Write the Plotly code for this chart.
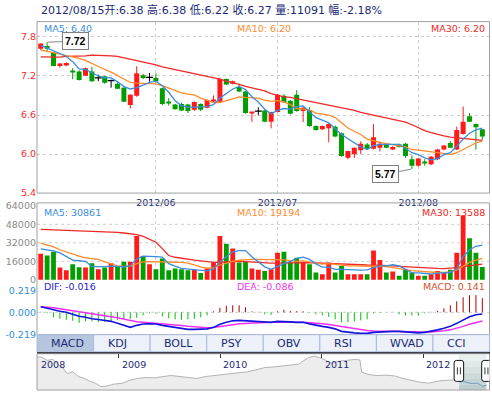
import plotly.graph_objects as go

# ---------------- data ----------------
month_labels = ["2012/06", "2012/07", "2012/08"]
month_start = [18, 37, 59]          # candle index of first trading day of month

open_ = [7.62,7.66,7.56,7.355,7.37,7.27,7.27,7.205,7.27,7.17,
         7.195,7.13,7.08,7.02,6.755,6.895,7.21,7.18,7.17,7.01,
         6.80,6.76,6.77,6.76,6.68,6.77,6.71,6.81,6.805,7.155,
         7.08,7.03,6.96,6.63,6.66,6.67,6.495,6.645,6.895,6.82,
         6.91,6.66,6.67,6.43,6.38,6.395,6.42,6.32,5.945,5.995,
         6.06,6.145,6.08,6.095,6.145,6.07,6.145,6.16,5.92,5.82,
         5.87,5.845,5.92,6.07,6.17,6.07,6.31,6.58,6.46,6.38]
high = [7.70,7.72,7.57,7.40,7.41,7.32,7.29,7.33,7.34,7.22,
        7.20,7.145,7.10,7.04,6.92,7.35,7.23,7.245,7.24,7.02,
        6.86,6.77,6.79,6.77,6.81,6.78,6.84,6.90,7.17,7.16,
        7.13,7.08,6.97,6.645,6.72,6.68,6.65,6.92,6.92,6.83,
        6.98,6.72,6.72,6.44,6.44,6.47,6.44,6.33,6.05,6.10,
        6.195,6.17,6.46,6.19,6.16,6.12,6.16,6.17,5.98,5.94,
        5.92,5.97,6.08,6.14,6.20,6.42,6.73,6.63,6.47,6.38]
low = [7.60,7.58,7.35,7.33,7.35,7.15,7.13,7.20,7.11,7.12,
       7.08,7.02,7.00,6.80,6.70,6.88,7.15,7.11,7.10,6.75,
       6.745,6.685,6.66,6.63,6.66,6.66,6.70,6.80,6.80,7.06,
       7.07,6.95,6.62,6.495,6.595,6.49,6.395,6.64,6.79,6.61,
       6.65,6.49,6.42,6.36,6.37,6.18,6.26,5.96,5.92,5.94,
       6.00,6.07,6.07,6.04,6.09,6.06,6.10,5.94,5.77,5.81,
       5.82,5.83,5.91,6.06,6.09,6.06,6.30,6.49,6.07,6.22]
close = [7.70,7.62,7.355,7.39,7.40,7.26,7.14,7.32,7.12,7.17,
         7.095,7.13,7.005,6.805,6.91,7.24,7.17,7.18,7.12,6.77,
         6.785,6.69,6.67,6.66,6.80,6.68,6.83,6.83,7.155,7.07,
         7.12,6.96,6.63,6.64,6.66,6.495,6.645,6.91,6.795,6.62,
         6.66,6.71,6.43,6.37,6.43,6.46,6.27,5.97,6.045,6.095,
         6.16,6.08,6.26,6.16,6.095,6.11,6.11,5.97,5.82,5.93,
         5.86,5.96,6.07,6.13,6.095,6.37,6.495,6.495,6.41,6.27]
volume = [22500,21000,24200,10600,8300,13400,10900,10600,14300,9200,
          10600,14300,11700,15700,15700,38000,20500,13400,9200,18500,
          8300,9700,9200,8300,8600,5800,9700,14900,38000,31200,
          27000,14900,15400,9700,8600,7700,9200,23300,24200,15400,
          19100,15400,13400,6300,4900,14900,6300,12000,4900,4900,
          4900,4900,25300,17100,6300,7100,3600,8600,6300,3600,
          3600,4900,7700,6300,8600,23300,55500,36000,23300,11091]
ma5 = [7.67,7.63,7.595,7.545,7.50,7.42,7.31,7.30,7.25,7.20,
       7.17,7.17,7.11,7.04,7.00,7.02,7.06,7.10,7.12,7.05,
       6.95,6.82,6.745,6.72,6.72,6.72,6.73,6.76,6.86,6.93,
       7.00,7.04,6.99,6.88,6.80,6.69,6.62,6.67,6.70,6.69,
       6.73,6.74,6.65,6.56,6.52,6.48,6.39,6.30,6.235,6.17,
       6.11,6.07,6.13,6.15,6.15,6.14,6.15,6.09,6.02,5.99,
       5.94,5.91,5.93,5.99,6.02,6.12,6.23,6.32,6.37,6.40]
ma10 = [7.60,7.58,7.56,7.54,7.52,7.50,7.47,7.44,7.39,7.35,
        7.30,7.26,7.21,7.15,7.10,7.09,7.09,7.09,7.08,7.05,
        7.01,6.97,6.94,6.92,6.91,6.86,6.82,6.79,6.79,6.82,
        6.86,6.88,6.87,6.86,6.86,6.83,6.81,6.82,6.80,6.76,
        6.70,6.69,6.68,6.63,6.61,6.60,6.56,6.48,6.40,6.35,
        6.30,6.23,6.20,6.18,6.16,6.14,6.12,6.11,6.07,6.06,
        6.04,6.03,6.03,6.01,5.99,6.02,6.07,6.12,6.17,6.20]
ma30 = [7.495,7.49,7.49,7.49,7.50,7.50,7.51,7.51,7.52,7.52,
        7.52,7.51,7.50,7.48,7.46,7.43,7.41,7.39,7.37,7.34,
        7.32,7.30,7.28,7.26,7.24,7.22,7.20,7.18,7.15,7.12,
        7.10,7.07,7.04,7.02,7.00,6.97,6.93,6.90,6.88,6.87,
        6.85,6.83,6.81,6.80,6.78,6.76,6.74,6.72,6.70,6.67,
        6.64,6.62,6.60,6.57,6.55,6.53,6.52,6.49,6.45,6.40,
        6.36,6.33,6.30,6.28,6.26,6.25,6.24,6.23,6.22,6.21]
vma5 = [26700,26000,25000,23300,20000,17000,16500,16000,11500,11300,
        11400,11800,11800,11300,12000,18000,20500,20500,20000,19600,
        14000,11800,9800,9300,8800,8000,7800,9400,15300,20000,
        24200,25200,25300,20000,15200,11200,9100,11700,14000,16000,
        18500,19500,17600,13800,11000,11000,9000,9000,8600,8600,
        8300,8500,10000,12000,12000,13000,12000,9000,6000,6000,
        5500,5000,5800,6100,6300,9500,20000,26000,29000,30000]
vma10 = [31800,30000,28500,26000,24000,22000,20500,19000,18300,17700,
         15500,13500,12000,11500,11800,14000,15500,15800,15500,15400,
         15300,15200,15000,14500,13000,11000,10000,10200,12800,14500,
         16000,16900,17400,17600,17600,17500,17300,17700,17300,16500,
         16000,16300,15500,14500,13500,14000,13400,12500,12000,12000,
         12000,12000,12000,12000,11500,10500,9500,8600,8000,7500,
         7000,6600,6300,6300,6800,8500,12000,15000,17000,18500]
vma30 = [43700,43500,43300,43200,43000,42800,42600,42400,42200,42000,
         41700,41400,41000,40500,40000,39000,37500,35000,32500,27000,
         21000,19500,18500,17700,17000,16300,15500,15000,15200,15600,
         16000,16000,15800,15400,15000,14600,14400,14500,14700,14900,
         15000,15000,14900,14700,14400,14200,13800,13500,13300,13100,
         12900,12800,12700,12600,12300,12000,11600,11200,10800,10400,
         10200,10000,9800,9700,9800,10500,11500,12200,12800,13500]
dif = [0.056,0.04,0.023,0.01,0.0,-0.02,-0.04,-0.05,-0.065,-0.072,
       -0.08,-0.09,-0.11,-0.13,-0.15,-0.13,-0.117,-0.115,-0.117,-0.13,
       -0.14,-0.155,-0.165,-0.17,-0.17,-0.17,-0.165,-0.15,-0.12,-0.10,
       -0.085,-0.08,-0.085,-0.09,-0.092,-0.10,-0.10,-0.09,-0.09,-0.095,
       -0.10,-0.10,-0.115,-0.13,-0.14,-0.15,-0.165,-0.19,-0.20,-0.205,
       -0.21,-0.21,-0.20,-0.195,-0.19,-0.19,-0.19,-0.195,-0.205,-0.205,
       -0.20,-0.19,-0.175,-0.16,-0.14,-0.11,-0.075,-0.045,-0.025,-0.016]
dea = [0.056,0.052,0.045,0.036,0.025,0.015,0.005,-0.005,-0.015,-0.025,
       -0.035,-0.045,-0.055,-0.07,-0.085,-0.095,-0.10,-0.105,-0.108,-0.112,
       -0.118,-0.125,-0.132,-0.14,-0.145,-0.15,-0.153,-0.152,-0.145,-0.135,
       -0.125,-0.115,-0.11,-0.105,-0.102,-0.101,-0.10,-0.098,-0.097,-0.097,
       -0.098,-0.099,-0.102,-0.107,-0.114,-0.122,-0.132,-0.145,-0.156,-0.166,
       -0.175,-0.182,-0.186,-0.188,-0.189,-0.19,-0.19,-0.191,-0.194,-0.196,
       -0.197,-0.196,-0.192,-0.185,-0.175,-0.16,-0.14,-0.12,-0.10,-0.086]
macd = [0.005,-0.01,-0.05,-0.065,-0.075,-0.085,-0.105,-0.09,-0.09,-0.10,
        -0.095,-0.09,-0.075,-0.065,-0.065,-0.055,-0.03,-0.01,-0.015,-0.04,
        -0.06,-0.07,-0.075,-0.07,-0.065,-0.05,-0.03,0.01,0.045,0.065,
        0.07,0.07,0.05,0.01,0.005,-0.02,-0.025,0.01,0.025,0.012,
        0.012,0.01,-0.005,-0.02,-0.03,-0.045,-0.07,-0.10,-0.10,-0.09,
        -0.08,-0.07,-0.01,-0.005,0.0,0.0,-0.02,-0.03,-0.03,-0.035,
        -0.01,0.005,0.015,0.04,0.07,0.11,0.15,0.17,0.172,0.141]

price_ticks = [5.4, 6.0, 6.6, 7.2, 7.8]
price_ticktext = ["5.4", "6.0", "6.6", "7.2", "7.8"]
vol_ticks = [0, 16000, 32000, 48000, 64000]
vol_ticktext = ["0", "16000", "32000", "48000", "64000"]
macd_ticks = [-0.219, 0.0, 0.219]
macd_ticktext = ["-0.219", "0.000", "0.219"]

header = "2012/08/15开:6.38 高:6.38 低:6.22 收:6.27 量:11091 幅:-2.18%"
price_legend = ["MA5: 6.40", "MA10: 6.20", "MA30: 6.20"]
vol_legend = ["MA5: 30861", "MA10: 19194", "MA30: 13588"]
macd_legend = ["DIF: -0.016", "DEA: -0.086", "MACD: 0.141"]
tabs = ["MACD", "KDJ", "BOLL", "PSY", "OBV", "RSI", "WVAD", "CCI"]

nav_dates = ["2008-03-14","2008-04-01","2008-04-20","2008-05-10","2008-05-28","2008-06-15",
             "2008-07-01","2008-07-20","2008-08-10","2008-09-01","2008-09-20","2008-10-10",
             "2008-10-30","2008-11-20","2008-12-15","2009-01-15","2009-02-10","2009-03-10",
             "2009-04-10","2009-05-10","2009-06-10","2009-07-10","2009-08-10","2009-09-10",
             "2009-10-10","2009-11-10","2009-12-10","2010-01-10","2010-02-10","2010-03-10",
             "2010-04-10","2010-05-10","2010-06-10","2010-07-10","2010-08-10","2010-09-10",
             "2010-10-10","2010-10-30","2010-11-15","2010-12-05","2010-12-25","2011-01-15",
             "2011-02-05","2011-03-01","2011-04-01","2011-05-01","2011-05-18","2011-05-25",
             "2011-06-20","2011-07-20","2011-08-20","2011-09-20","2011-10-20","2011-11-20",
             "2011-12-20","2012-01-20","2012-02-20","2012-03-20","2012-04-20","2012-05-08",
             "2012-05-25","2012-06-10","2012-06-25","2012-07-10","2012-07-25","2012-08-01",
             "2012-08-15"]
nav_values = [13.8,13.55,12.8,13.05,11.8,10.8,
              9.3,9.8,8.55,8.05,7.3,6.8,
              5.9,6.05,6.55,6.8,7.55,8.05,
              8.3,8.2,8.55,8.8,8.55,8.2,
              8.05,8.55,8.8,9.05,9.3,9.55,
              9.8,10.3,10.9,11.05,11.3,11.55,
              11.8,12.8,13.55,13.9,13.55,12.8,
              12.05,12.55,12.8,13.05,12.9,9.7,
              9.05,8.8,8.9,8.7,8.05,7.55,
              7.05,6.8,7.3,7.55,7.7,7.7,
              7.2,6.9,6.7,6.8,6.4,5.9,
              6.3]
nav_years = ["2008", "2009", "2010", "2011", "2012"]
nav_year_dates = ["2008-03-16", "2009-01-01", "2010-01-01", "2011-01-01", "2012-01-01"]
sel_start, sel_end = "2012-05-08", "2012-08-15"

# ---------------- styling ----------------
W, H = 492, 396
def fx(p): return p / W
def fy(p): return 1 - p / H

FONT = "DejaVu Sans, Verdana, Noto Sans CJK SC, sans-serif"
NAVY = "#1b2a78"
RED = "#ff1a1a"
GREEN = "#009e00"
C_MA5 = "#3b8ddc"
C_MA10 = "#ff8a2b"
C_MA30 = "#f02828"
GRID = "#cfcfcf"
BORDER = "#a0a0a0"
XL, XR = 37, 489.5

fig = go.Figure()
n = len(close)
idx = list(range(n))

def segs(ids, lo, hi):
    xs, ys = [], []
    for i in ids:
        xs += [i, i, None]
        ys += [lo[i], hi[i], None]
    return xs, ys

up = [i for i in idx if close[i] > open_[i]]
dn = [i for i in idx if close[i] < open_[i]]
flat = [i for i in idx if close[i] == open_[i]]

# wicks
for ids, col in ((up, RED), (dn, GREEN), (flat, "#000000")):
    xs, ys = segs(ids, low, high)
    fig.add_trace(go.Scatter(x=xs, y=ys, mode="lines", line=dict(color=col, width=1),
                             xaxis="x", yaxis="y", hoverinfo="skip"))
# bodies
nf = up + dn
fig.add_trace(go.Bar(x=nf, y=[abs(close[i] - open_[i]) for i in nf],
                     base=[min(open_[i], close[i]) for i in nf], width=0.78,
                     marker=dict(color=[RED if close[i] > open_[i] else GREEN for i in nf],
                                 line=dict(width=0)),
                     xaxis="x", yaxis="y", hoverinfo="skip"))
fig.add_trace(go.Scatter(x=flat, y=[close[i] for i in flat], mode="markers",
                         marker=dict(symbol="line-ew", size=5, line=dict(color="#000", width=1.2)),
                         xaxis="x", yaxis="y", hoverinfo="skip"))
for ser, col in ((ma30, C_MA30), (ma10, C_MA10), (ma5, C_MA5)):
    fig.add_trace(go.Scatter(x=idx, y=ser, mode="lines", line=dict(color=col, width=1.3),
                             xaxis="x", yaxis="y", hoverinfo="skip"))

# volume
fig.add_trace(go.Bar(x=idx, y=volume, width=0.75,
                     marker=dict(color=[RED if close[i] >= open_[i] else GREEN for i in idx],
                                 line=dict(width=0)),
                     xaxis="x2", yaxis="y2", hoverinfo="skip"))
for ser, col in ((vma30, C_MA30), (vma10, C_MA10), (vma5, C_MA5)):
    fig.add_trace(go.Scatter(x=idx, y=ser, mode="lines", line=dict(color=col, width=1.3),
                             xaxis="x2", yaxis="y2", hoverinfo="skip"))

# MACD
zero = [0.0] * n
pos = [i for i in idx if macd[i] > 0]
neg = [i for i in idx if macd[i] < 0]
for ids, col in ((pos, "#b00000"), (neg, "#00c400")):
    xs, ys = segs(ids, zero, macd)
    fig.add_trace(go.Scatter(x=xs, y=ys, mode="lines", line=dict(color=col, width=1),
                             xaxis="x3", yaxis="y3", hoverinfo="skip"))
fig.add_trace(go.Scatter(x=idx, y=dea, mode="lines", line=dict(color="#f030f0", width=1.5),
                         xaxis="x3", yaxis="y3", hoverinfo="skip"))
fig.add_trace(go.Scatter(x=idx, y=dif, mode="lines", line=dict(color="#1414e0", width=1.6),
                         xaxis="x3", yaxis="y3", hoverinfo="skip"))

# navigator
k = nav_dates.index(sel_start)
fig.add_trace(go.Scatter(x=nav_dates[:k + 1], y=nav_values[:k + 1], mode="lines", fill="tozeroy",
                         fillcolor="#ededed", line=dict(color="#b3b3b3", width=1),
                         xaxis="x4", yaxis="y4", hoverinfo="skip"))
fig.add_trace(go.Scatter(x=nav_dates[k:], y=nav_values[k:], mode="lines",
                         line=dict(color="#6f9cc4", width=1),
                         xaxis="x4", yaxis="y4", hoverinfo="skip"))

xr = [-0.58, 70.12]
fig.update_layout(
    width=W, height=H, margin=dict(l=0, r=0, t=0, b=0),
    paper_bgcolor="white", plot_bgcolor="rgba(0,0,0,0)",
    showlegend=False, barmode="overlay", hovermode=False,
    xaxis=dict(domain=[fx(XL), fx(XR)], range=xr, anchor="y", tickmode="array",
               tickvals=month_start, ticktext=month_labels, ticks="", showgrid=True,
               gridcolor=GRID, griddash="3px,3px", zeroline=False, showline=False,
               tickfont=dict(family=FONT, size=9.5, color=NAVY), ticklabelstandoff=2),
    yaxis=dict(domain=[fy(194), fy(19)], range=[5.4, 8.0355], tickmode="array",
               tickvals=price_ticks, ticktext=price_ticktext, ticks="", showgrid=True,
               gridcolor=GRID, griddash="3px,3px", zeroline=False,
               tickfont=dict(family=FONT, size=9.5, color="#ff2a2a")),
    xaxis2=dict(domain=[fx(XL), fx(XR)], range=xr, anchor="y2", matches="x",
                tickmode="array", tickvals=month_start, showticklabels=False, ticks="",
                showgrid=True, gridcolor=GRID, griddash="3px,3px", zeroline=False),
    yaxis2=dict(domain=[fy(283), fy(204)], range=[-424, 66568], tickmode="array",
                tickvals=vol_ticks, ticktext=vol_ticktext, ticks="", showgrid=False,
                zeroline=False, tickfont=dict(family=FONT, size=9.5, color="#8a8a8a")),
    xaxis3=dict(domain=[fx(XL), fx(XR)], range=xr, anchor="y3", matches="x",
                showticklabels=False, ticks="", showgrid=False, zeroline=False),
    yaxis3=dict(domain=[fy(338.5), fy(283)], range=[-0.2229, 0.3196], tickmode="array",
                tickvals=macd_ticks, ticktext=macd_ticktext, ticks="", showgrid=False,
                zeroline=False, tickfont=dict(family=FONT, size=9.5, color="#2f8fdc")),
    xaxis4=dict(domain=[fx(XL), fx(XR)], type="date", range=["2008-03-14", "2012-08-26"],
                anchor="y4", side="top", tickmode="array", tickvals=nav_year_dates,
                ticks="inside", ticklen=4, tickcolor="#333", showticklabels=False,
                showline=True, linecolor="#111", linewidth=1.5, showgrid=False, zeroline=False),
    yaxis4=dict(domain=[fy(395), fy(358.5)], range=[5.0, 14.4], visible=False),
)

shapes = []
def rect(x0, y0, x1, y1, fill=None, line=BORDER, lw=1, layer="above"):
    shapes.append(dict(type="rect", xref="paper", yref="paper", x0=fx(x0), x1=fx(x1),
                       y0=fy(y1), y1=fy(y0), line=dict(color=line, width=lw),
                       fillcolor=fill if fill else "rgba(0,0,0,0)", layer=layer))

# volume gridlines (not at 0 / top)
for v in vol_ticks[1:-1]:
    shapes.append(dict(type="line", xref="paper", yref="y2", x0=fx(XL), x1=fx(XR), y0=v, y1=v,
                       line=dict(color=GRID, width=1, dash="3px,3px"), layer="below"))
shapes.append(dict(type="line", xref="paper", yref="y3", x0=fx(XL), x1=fx(XR), y0=0, y1=0,
                   line=dict(color=GRID, width=1, dash="3px,3px"), layer="below"))

# navigator selection background (gradient bands)
bands = ["#e9efef", "#e0e9e9", "#d6e2e2", "#ccdada", "#c4d3d3", "#bdcece"]
top, bot = 359.3, 395
hh = (bot - top) / len(bands)
for j, c in enumerate(bands):
    shapes.append(dict(type="rect", xref="x4", yref="paper", x0=sel_start, x1=sel_end,
                       y0=fy(top + (j + 1) * hh), y1=fy(top + j * hh), line=dict(width=0),
                       fillcolor=c, layer="below"))

rect(XL, 19, XR, 194)
rect(XL, 204, XR, 338.5)
rect(XL, 358, XR, 395)

# tab bar
tab_w = (XR - XL) / len(tabs)
annotations = []
for j, t in enumerate(tabs):
    x0 = XL + j * tab_w
    rect(x0, 338.5, x0 + tab_w, 356, fill="#b6c6de" if j == 0 else "#ecf1fa", line="#a9badb")
    annotations.append(dict(text=t, xref="paper", yref="paper", x=fx(x0 + 12), y=fy(347.5),
                            xanchor="left", yanchor="middle", showarrow=False,
                            font=dict(family=FONT, size=11, color=NAVY)))

# navigator year labels
for d, lab in zip(nav_year_dates, nav_years):
    annotations.append(dict(text=lab, xref="x4", yref="paper", x=d, y=fy(368.5),
                            xanchor="left", yanchor="middle", showarrow=False, xshift=1,
                            font=dict(family=FONT, size=9.5, color=NAVY)))

# navigator handles
def rpath(w, h, r):
    x0, x1, y0, y1 = -w / 2, w / 2, -h / 2, h / 2
    return (f"M {x0 + r} {y0} L {x1 - r} {y0} Q {x1} {y0} {x1} {y0 + r} L {x1} {y1 - r} "
            f"Q {x1} {y1} {x1 - r} {y1} L {x0 + r} {y1} Q {x0} {y1} {x0} {y1 - r} "
            f"L {x0} {y0 + r} Q {x0} {y0} {x0 + r} {y0} Z")
for d in (sel_start, sel_end):
    shapes.append(dict(type="path", xref="x4", yref="paper", xsizemode="pixel",
                       ysizemode="pixel", xanchor=d, yanchor=fy(375.5), path=rpath(9.5, 21, 2.5),
                       fillcolor="white", line=dict(color="#111", width=1), layer="above"))
    shapes.append(dict(type="path", xref="x4", yref="paper", xsizemode="pixel",
                       ysizemode="pixel", xanchor=d, yanchor=fy(375.5),
                       path="M -1.5 -3.5 L -1.5 3.5 M 1.5 -3.5 L 1.5 3.5",
                       line=dict(color="#333", width=1), layer="above"))

# header + legends
annotations.append(dict(text=header, xref="paper", yref="paper", x=fx(38.5), y=fy(7.5),
                        xanchor="left", yanchor="middle", showarrow=False,
                        font=dict(family=FONT, size=11, color=NAVY)))
for labels, yy, cols in ((price_legend, 26, (C_MA5, C_MA10, C_MA30)),
                         (vol_legend, 213.5, (C_MA5, C_MA10, C_MA30)),
                         (macd_legend, 289, ("#2323d6", "#ee33ee", "#d8502e"))):
    for lab, xx, anc, col in zip(labels, (42, 235, 487), ("left", "left", "right"), cols):
        annotations.append(dict(text=lab, xref="paper", yref="paper", x=fx(xx), y=fy(yy),
                                xanchor=anc, yanchor="middle", showarrow=False,
                                font=dict(family=FONT, size=9.5, color=col)))

# max / min labels
imax = high.index(max(high))
imin = low.index(min(low))
for i, val, ax, ay in ((imax, high[imax], 28, -1), (imin, low[imin], -26, 5)):
    annotations.append(dict(text=f"<b>{val:.2f}</b>", x=i, y=val, xref="x", yref="y",
                            showarrow=True, arrowhead=0, arrowwidth=1, arrowcolor="#888",
                            ax=ax, ay=ay, standoff=1, bgcolor="white", bordercolor="#808080",
                            borderwidth=1, borderpad=2,
                            font=dict(family="Liberation Sans, Arial", size=10.5, color="#000")))

fig.update_layout(shapes=shapes, annotations=annotations)
fig.write_html("out.html")
